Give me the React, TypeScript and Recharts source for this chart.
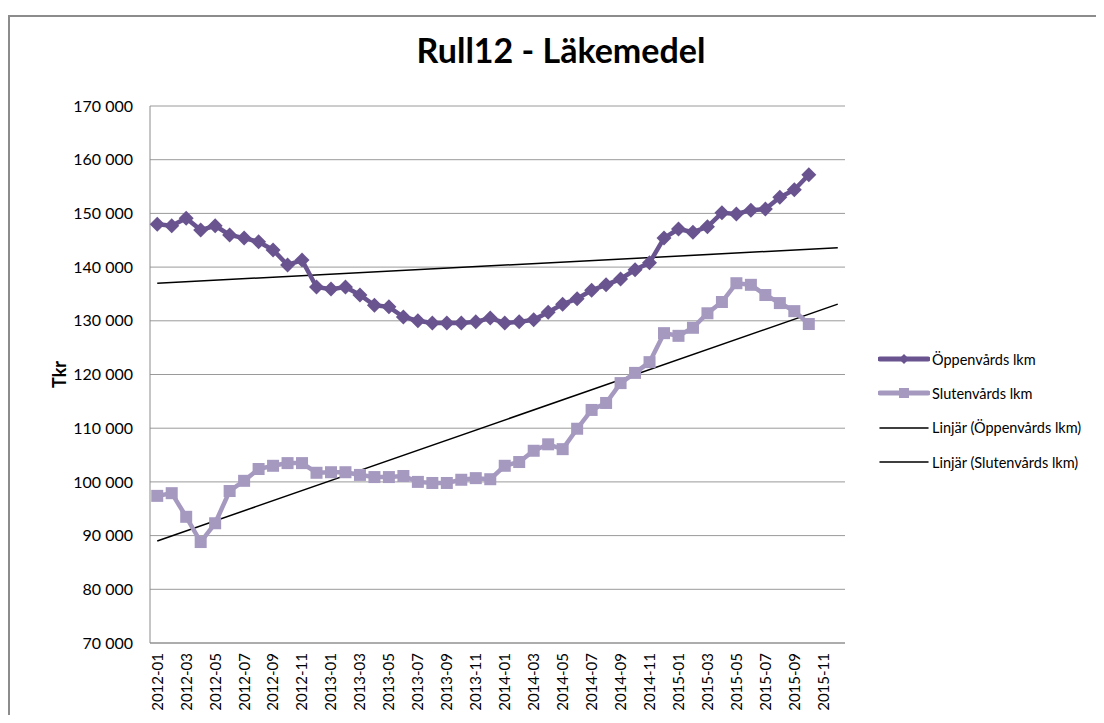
import { CartesianGrid, Line, LineChart, XAxis, YAxis } from "recharts";

const MONTHS = [
  "2012-01", "2012-02", "2012-03", "2012-04", "2012-05", "2012-06",
  "2012-07", "2012-08", "2012-09", "2012-10", "2012-11", "2012-12",
  "2013-01", "2013-02", "2013-03", "2013-04", "2013-05", "2013-06",
  "2013-07", "2013-08", "2013-09", "2013-10", "2013-11", "2013-12",
  "2014-01", "2014-02", "2014-03", "2014-04", "2014-05", "2014-06",
  "2014-07", "2014-08", "2014-09", "2014-10", "2014-11", "2014-12",
  "2015-01", "2015-02", "2015-03", "2015-04", "2015-05", "2015-06",
  "2015-07", "2015-08", "2015-09", "2015-10", "2015-11", "2015-12",
];

// Rull12, Tkr (2015-11 and 2015-12 have no values yet)
const OPPEN = [
  148000, 147700, 149100, 146900, 147700, 146000, 145400, 144700, 143200, 140400, 141300, 136300,
  135900, 136300, 134800, 132900, 132600, 130700, 130000, 129600, 129600, 129600, 129800, 130500,
  129600, 129800, 130200, 131600, 133100, 134100, 135700, 136700, 137800, 139500, 140800, 145400,
  147100, 146500, 147500, 150100, 149900, 150600, 150800, 153000, 154400, 157200,
];
const SLUTEN = [
  97400, 97900, 93500, 88800, 92300, 98300, 100200, 102400, 103000, 103500, 103500, 101700,
  101800, 101800, 101300, 100900, 100900, 101100, 100000, 99800, 99800, 100400, 100700, 100500,
  103000, 103700, 105800, 107000, 106100, 109900, 113400, 114700, 118400, 120300, 122300, 127700,
  127200, 128700, 131400, 133500, 137000, 136700, 134800, 133300, 131800, 129400,
];
// linear trend lines, value at first and last month
const TREND_OPPEN = [137000, 143600];
const TREND_SLUTEN = [89000, 133100];

const Y_TICKS = [70000, 80000, 90000, 100000, 110000, 120000, 130000, 140000, 150000, 160000, 170000];

const C_OPPEN = "#69548f";
const C_SLUTEN = "#a699c0";
const FONT = "Lato, 'Open Sans', sans-serif";

const last = MONTHS.length - 1;
const data = MONTHS.map((m, i) => ({
  month: m,
  oppen: OPPEN[i] ?? null,
  sluten: SLUTEN[i] ?? null,
  trendOppen: i === 0 ? TREND_OPPEN[0] : i === last ? TREND_OPPEN[1] : null,
  trendSluten: i === 0 ? TREND_SLUTEN[0] : i === last ? TREND_SLUTEN[1] : null,
}));

const fmt = (v: number) => String(v).replace(/\B(?=(\d{3})+(?!\d))/g, " ");

const Diamond = (p: any) => {
  const { cx, cy, index } = p;
  if (cx == null || cy == null || p.value == null) return <g key={index} />;
  const r = 7.5;
  return (
    <polygon
      key={index}
      points={`${cx},${cy - r} ${cx + r},${cy} ${cx},${cy + r} ${cx - r},${cy}`}
      fill={C_OPPEN}
    />
  );
};

const Square = (p: any) => {
  const { cx, cy, index } = p;
  if (cx == null || cy == null || p.value == null) return <g key={index} />;
  const s = 12;
  return <rect key={index} x={cx - s / 2} y={cy - s / 2} width={s} height={s} fill={C_SLUTEN} />;
};

const MonthTick = ({ x, y, payload }: any) => (
  <text
    x={x}
    y={y + 2}
    transform={`rotate(-90, ${x}, ${y + 2})`}
    textAnchor="end"
    dy="0.36em"
    fontSize={15}
    fontFamily={FONT}
    fill="#000"
  >
    {payload.value}
  </text>
);

const LEGEND = [
  { label: "Öppenvårds lkm", color: C_OPPEN, width: 5, marker: "diamond" },
  { label: "Slutenvårds lkm", color: C_SLUTEN, width: 5, marker: "square" },
  { label: "Linjär (Öppenvårds lkm)", color: "#000", width: 1.5, marker: "" },
  { label: "Linjär (Slutenvårds lkm)", color: "#000", width: 1.5, marker: "" },
];

export default function App() {
  // outer frame: top/left border only, like the cropped Excel chart area
  return (
    <div
      style={{
        position: "relative",
        boxSizing: "border-box",
        marginTop: 7,
        marginBottom: -8,
        width: 1096,
        height: 708,
        borderTop: "2px solid #8c8c8c",
        borderLeft: "2px solid #8c8c8c",
        fontFamily: FONT,
      }}
    >
      <div
        style={{
          position: "absolute",
          left: -2,
          width: 1106,
          top: 16,
          textAlign: "center",
          fontSize: 34,
          lineHeight: "34px",
          fontWeight: 700,
          color: "#000",
        }}
      >
        Rull12 - Läkemedel
      </div>

      <div style={{ position: "absolute", left: -2, top: -9 }}>
        <LineChart
          width={1094}
          height={715}
          data={data}
          margin={{ top: 98, right: 257, bottom: 5, left: 30 }}
        >
          <CartesianGrid vertical={false} stroke="#9a9a9a" strokeWidth={1} />
          <XAxis
            dataKey="month"
            interval={1}
            padding={{ left: 7.24, right: 7.24 }}
            tickLine={false}
            axisLine={{ stroke: "#8c8c8c" }}
            height={75}
            tick={<MonthTick />}
          />
          <YAxis
            domain={[70000, 170000]}
            ticks={Y_TICKS}
            tickFormatter={fmt}
            tickLine={false}
            axisLine={{ stroke: "#8c8c8c" }}
            tickMargin={11}
            width={112}
            tick={{ fontSize: 16, fill: "#000", fontFamily: FONT }}
            label={({ viewBox }: any) => {
              const lx = 52;
              const ly = viewBox.y + viewBox.height / 2;
              return (
                <text
                  x={lx}
                  y={ly}
                  transform={`rotate(-90, ${lx}, ${ly})`}
                  textAnchor="middle"
                  dy="0.36em"
                  fontSize={18}
                  fontWeight={700}
                  fontFamily={FONT}
                  fill="#000"
                >
                  Tkr
                </text>
              );
            }}
          />
          <Line
            dataKey="trendOppen"
            stroke="#000"
            strokeWidth={1.5}
            dot={false}
            connectNulls
            isAnimationActive={false}
          />
          <Line
            dataKey="trendSluten"
            stroke="#000"
            strokeWidth={1.5}
            dot={false}
            connectNulls
            isAnimationActive={false}
          />
          <Line
            dataKey="sluten"
            stroke={C_SLUTEN}
            strokeWidth={4.5}
            dot={Square}
            activeDot={false}
            isAnimationActive={false}
          />
          <Line
            dataKey="oppen"
            stroke={C_OPPEN}
            strokeWidth={4.5}
            dot={Diamond}
            activeDot={false}
            isAnimationActive={false}
          />
        </LineChart>
      </div>

      <div style={{ position: "absolute", left: 868, top: 325 }}>
        {LEGEND.map((it) => (
          <div key={it.label} style={{ display: "flex", alignItems: "center", height: 34.3 }}>
            <svg width={52} height={16} style={{ flex: "none" }}>
              <line x1={2} y1={8} x2={50} y2={8} stroke={it.color} strokeWidth={it.width} strokeLinecap="round" />
              {it.marker === "diamond" && <polygon points="26,3 31,8 26,13 21,8" fill={it.color} />}
              {it.marker === "square" && <rect x={21} y={3} width={10} height={10} fill={it.color} />}
            </svg>
            <span style={{ fontSize: 14.5, marginLeft: 2, whiteSpace: "nowrap", color: "#000" }}>{it.label}</span>
          </div>
        ))}
      </div>
    </div>
  );
}
